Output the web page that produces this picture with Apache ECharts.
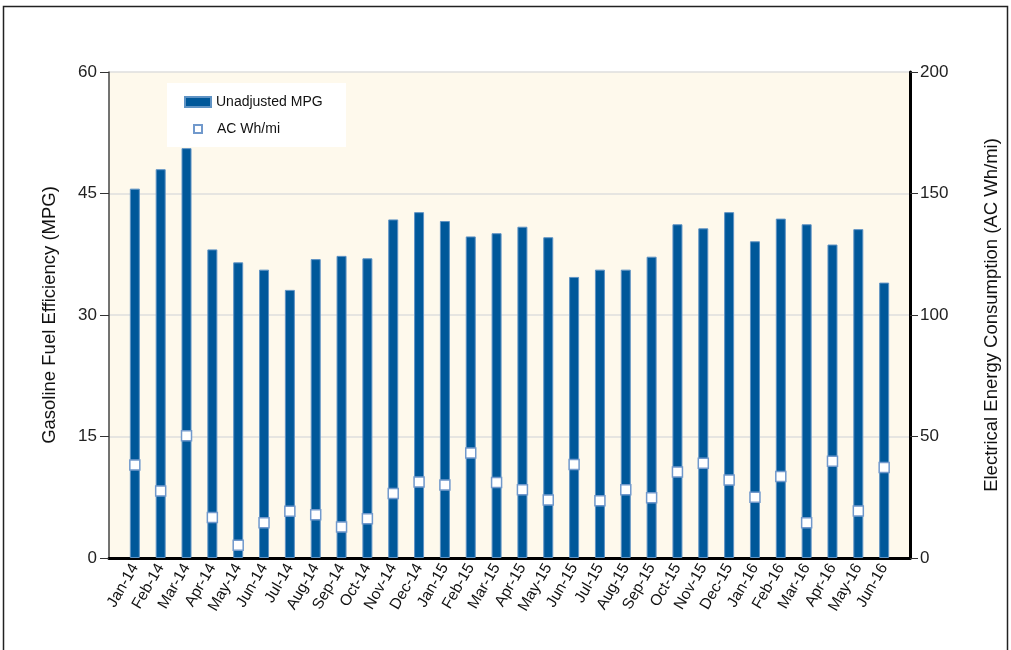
<!DOCTYPE html>
<html>
<head>
<meta charset="utf-8">
<script src="https://cdn.jsdelivr.net/npm/echarts@6/dist/echarts.min.js"></script>
<style>
html,body{margin:0;padding:0;background:#fff;}
#chart{width:1011px;height:650px;}
</style>
</head>
<body>
<div id="chart"></div>
<script>
const categories = ["Jan-14","Feb-14","Mar-14","Apr-14","May-14","Jun-14","Jul-14","Aug-14","Sep-14","Oct-14","Nov-14","Dec-14",
  "Jan-15","Feb-15","Mar-15","Apr-15","May-15","Jun-15","Jul-15","Aug-15","Sep-15","Oct-15","Nov-15","Dec-15",
  "Jan-16","Feb-16","Mar-16","Apr-16","May-16","Jun-16"];
const mpgValues = [45.6,48.0,50.6,38.1,36.5,35.6,33.1,36.9,37.3,37.0,41.8,42.7,
  41.6,39.7,40.1,40.9,39.6,34.7,35.6,35.6,37.2,41.2,40.7,42.7,
  39.1,41.9,41.2,38.7,40.6,34.0];
const acValues = [38.3,27.6,50.3,16.7,5.2,14.5,19.2,17.8,12.8,16.2,26.5,31.3,
  30.0,43.2,31.1,28.1,23.9,38.5,23.6,28.1,24.8,35.4,39.0,32.1,
  25.0,33.5,14.5,39.8,19.3,37.2];
const leftTicks = {min:0, max:60, interval:15};
const rightTicks = {min:0, max:200, interval:50};
const seriesNames = ["Unadjusted MPG","AC Wh/mi"];
const leftTitle = "Gasoline Fuel Efficiency (MPG)";
const rightTitle = "Electrical Energy Consumption (AC Wh/mi)";

const FONT = "'Liberation Sans', Arial, sans-serif";
const chart = echarts.init(document.getElementById('chart'), null, {renderer:'canvas'});
const option = {
  animation:false,
  backgroundColor:'#ffffff',
  textStyle:{fontFamily:FONT},
  graphic:[
    {type:'rect', shape:{x:3.5,y:6.5,width:1004,height:700}, style:{fill:'none',stroke:'#222',lineWidth:1.5}, z:0, silent:true},
    {type:'rect', shape:{x:167,y:83,width:179,height:64}, style:{fill:'#ffffff',stroke:'none'}, z:5, silent:true}
  ],
  grid:{left:109,right:101,top:72,bottom:92,show:true,backgroundColor:'#fef9ec',borderWidth:0},
  legend:[
    {data:[seriesNames[0]], left:179, top:90, orient:'vertical', itemWidth:26, itemHeight:10, itemGap:10, z:10,
     textStyle:{fontFamily:FONT,fontSize:14,color:'#111'}, icon:'rect', selectedMode:false},
    {data:[seriesNames[1]], left:188, top:117, orient:'vertical', itemWidth:8, itemHeight:8, itemGap:10, z:10,
     textStyle:{fontFamily:FONT,fontSize:14,color:'#111',padding:[0,0,0,10]}, icon:'rect', selectedMode:false}
  ],
  xAxis:{
    type:'value', min:-1, max:categories.length, interval:1,
    axisLine:{show:true,onZero:false,lineStyle:{color:'#000',width:3}},
    axisTick:{show:false},
    splitLine:{show:false},
    axisLabel:{rotate:60, margin:7, fontSize:15.5, color:'#111', fontFamily:FONT,
      formatter:function(v){ return (v>=0 && v<categories.length && Number.isInteger(v)) ? categories[v] : ''; }}
  },
  yAxis:[
    {type:'value', min:leftTicks.min, max:leftTicks.max, interval:leftTicks.interval,
     name:leftTitle, nameLocation:'middle', nameGap:50, nameRotate:90,
     nameTextStyle:{fontSize:18.5,color:'#111',fontFamily:FONT},
     axisLine:{show:true,onZero:false,lineStyle:{color:'#444',width:1.5}},
     axisTick:{show:true,inside:false,length:9,lineStyle:{color:'#333'}},
     axisLabel:{fontSize:17,color:'#222',margin:12,fontFamily:FONT},
     splitLine:{show:true,lineStyle:{color:'#dedede',width:1.5}}},
    {type:'value', min:rightTicks.min, max:rightTicks.max, interval:rightTicks.interval, position:'right',
     name:rightTitle, nameLocation:'middle', nameGap:72, nameRotate:90,
     nameTextStyle:{fontSize:18.5,color:'#111',fontFamily:FONT},
     axisLine:{show:true,onZero:false,lineStyle:{color:'#000',width:3}},
     axisTick:{show:true,inside:false,length:8,lineStyle:{color:'#333'}},
     axisLabel:{fontSize:17,color:'#222',margin:10,fontFamily:FONT},
     splitLine:{show:false}}
  ],
  series:[
    {name:seriesNames[0], type:'bar', yAxisIndex:0, barWidth:10, z:2,
     itemStyle:{color:'#00589a',borderColor:'#5f93c4',borderWidth:1},
     data:mpgValues.map((v,i)=>[i,v])},
    {name:seriesNames[1], type:'scatter', yAxisIndex:1, symbol:'rect', symbolSize:10, z:3,
     itemStyle:{color:'#ffffff',borderColor:'#7199cc',borderWidth:1.5,opacity:1},
     data:acValues.map((v,i)=>[i,v])}
  ]
};
chart.setOption(option);
</script>
</body>
</html>
